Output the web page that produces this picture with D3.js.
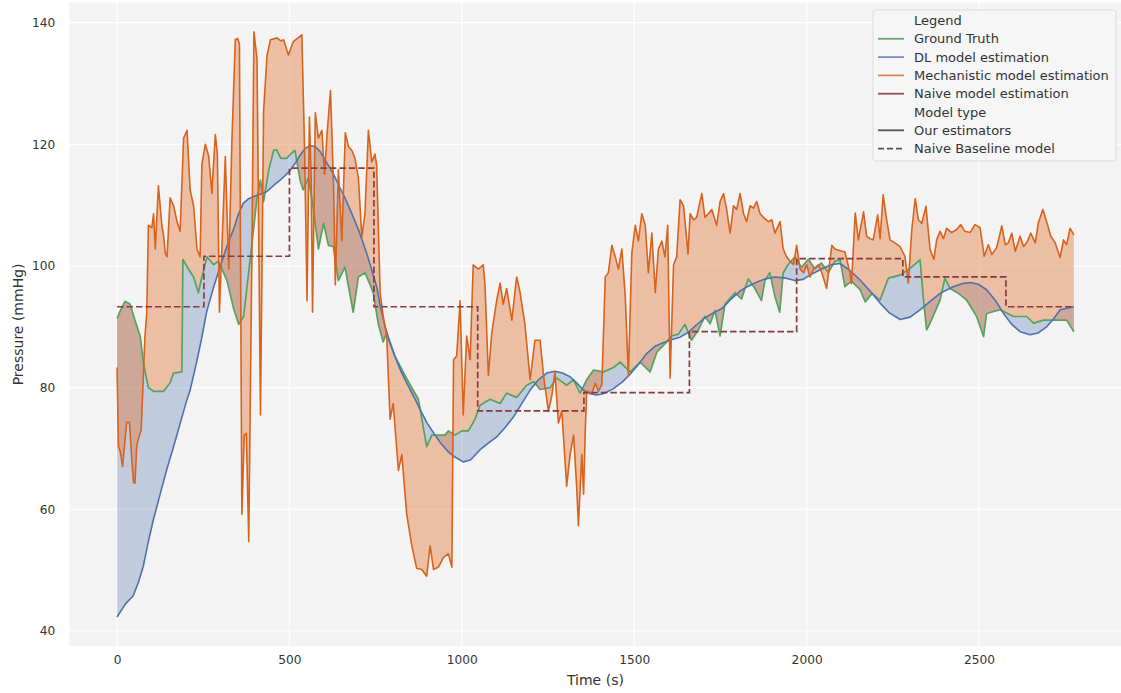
<!DOCTYPE html>
<html><head><meta charset="utf-8">
<script src="https://cdn.jsdelivr.net/npm/d3@7"></script>
<style>body{margin:0;background:#fff}svg{display:block}text{font-family:"DejaVu Sans",sans-serif}</style>
</head><body>
<script>
// ---------- data (time in s, pressure in mmHg) ----------
const groundTruth = [[0,91.4],[10,92.7],[23,94.2],[38,93.7],[52,91.1],[67,88.5],[77,83.9],[91,80.0],[106,79.4],[135,79.4],[154,80.8],[164,82.4],[188,82.6],[191,101.1],[207,99.5],[222,98.2],[236,95.6],[246,98.2],[261,101.5],[280,100.2],[294,100.8],[319,97.6],[338,93.0],[353,90.4],[367,91.7],[387,101.5],[406,111.2],[416,114.1],[425,110.6],[440,115.8],[454,119.0],[463,119.1],[475,117.7],[492,117.7],[505,118.5],[516,119.0],[531,114.1],[540,112.5],[555,114.5],[569,109.7],[584,102.8],[599,107.0],[613,103.4],[627,103.2],[642,97.6],[661,99.8],[685,92.4],[700,98.2],[719,98.9],[734,96.9],[743,95.6],[758,90.4],[772,87.5],[782,89.1],[806,85.2],[835,82.0],[874,78.1],[898,70.3],[913,72.2],[951,72.2],[961,72.9],[980,72.2],[1000,72.9],[1019,72.9],[1038,74.8],[1053,77.1],[1082,78.1],[1111,77.4],[1130,79.1],[1159,78.4],[1188,80.4],[1208,81.0],[1227,79.7],[1256,80.0],[1275,81.6],[1304,80.4],[1324,81.3],[1343,79.1],[1362,81.3],[1382,82.9],[1411,82.6],[1440,83.3],[1459,84.2],[1488,82.6],[1517,84.2],[1546,82.6],[1566,85.9],[1589,87.2],[1608,88.5],[1628,88.8],[1647,90.4],[1666,87.8],[1686,89.5],[1705,91.7],[1720,90.5],[1734,92.7],[1749,88.5],[1763,93.7],[1792,95.6],[1811,94.6],[1831,97.9],[1850,96.3],[1869,94.3],[1879,97.6],[1893,98.9],[1908,95.0],[1922,92.4],[1932,98.9],[1946,100.2],[1966,101.5],[1985,99.8],[2005,101.1],[2024,99.5],[2043,100.5],[2063,98.9],[2082,100.8],[2097,101.0],[2111,96.6],[2130,97.5],[2155,96.1],[2170,94.1],[2190,95.5],[2213,94.4],[2237,98.0],[2271,98.5],[2300,99.6],[2329,101.0],[2339,94.4],[2348,89.5],[2358,90.6],[2387,94.4],[2401,98.0],[2416,96.3],[2440,95.5],[2464,94.4],[2493,91.7],[2513,88.4],[2522,92.2],[2561,92.8],[2600,91.7],[2638,91.7],[2658,90.6],[2687,91.1],[2716,91.1],[2754,91.1],[2775,89.2]];

const dlEstimate = [[0,42.3],[25,44.5],[47,45.8],[62,48],[76,50.6],[90,54.5],[105,58.2],[125,62.5],[144,66.5],[165,70.5],[183,74.1],[200,77.5],[212,79.6],[230,84],[245,88],[260,92.5],[280,96.5],[299,99.9],[320,103.5],[337,105.9],[352,108.5],[366,110.3],[380,111],[395,111.4],[415,111.8],[434,112.2],[455,113.3],[473,114.1],[490,115],[502,115.7],[518,117],[531,118.2],[545,119.3],[560,119.8],[575,119.6],[589,118.8],[608,117],[627,115.2],[645,113],[660,111.3],[681,108.6],[700,106],[724,102.1],[739,99.3],[753,96.6],[765,93.0],[777,90.2],[790,87.5],[805,85.3],[821,83.0],[840,80.8],[859,78.7],[880,76.3],[898,74.3],[920,72.4],[937,71.0],[960,69.5],[980,68.6],[1004,67.8],[1025,68.1],[1053,69.8],[1075,70.8],[1101,71.9],[1125,73.4],[1150,75.2],[1175,77.5],[1198,79.6],[1222,81.3],[1246,82.4],[1270,82.7],[1292,82.4],[1314,81.8],[1333,80.8],[1352,79.6],[1372,79.0],[1391,78.8],[1410,79.0],[1439,79.8],[1465,80.9],[1488,82.2],[1512,83.8],[1536,85.6],[1560,86.8],[1584,87.4],[1610,87.9],[1633,88.3],[1657,89.1],[1680,90.3],[1705,91.5],[1730,92.3],[1754,93.0],[1780,94.5],[1805,95.8],[1828,96.6],[1850,97.2],[1875,97.8],[1908,98.2],[1940,98.0],[1966,97.6],[1990,97.8],[2015,98.7],[2044,99.5],[2070,100.2],[2097,100.4],[2125,99.3],[2155,97.7],[2185,95.8],[2213,93.9],[2240,92.3],[2271,91.2],[2300,91.6],[2329,92.8],[2358,94.2],[2387,95.5],[2425,96.6],[2450,97.1],[2474,97.3],[2498,97.0],[2522,96.1],[2548,94.3],[2571,92.2],[2595,90.4],[2619,89.2],[2648,88.7],[2672,89.0],[2696,90.0],[2716,91.3],[2735,92.8],[2775,93.3]];

const mechEstimate = [[0,83.3],[4,70.3],[9,69.6],[16,67.0],[28,74.3],[36,74.3],[43,68],[48,64.4],[52,64.3],[57,70.3],[62,71.6],[70,73.0],[75,80],[81,88.5],[86,92],[91,106.7],[101,106.3],[106,108.6],[111,102.8],[120,113.2],[130,106.7],[135,105.0],[140,102.1],[145,101.5],[154,111.2],[164,109.9],[174,107.3],[183,105.7],[193,121.0],[203,122.3],[212,112.5],[222,109.9],[232,102.8],[241,101.5],[246,116.7],[256,120.0],[266,118.0],[275,111.9],[285,121.6],[291,118.4],[297,92.4],[314,118.0],[324,99.5],[333,120.3],[343,137.2],[350,137.4],[355,136.5],[362,59.2],[369,72.2],[375,72.5],[382,54.7],[391,101.5],[397,138.5],[406,134.0],[416,75.5],[425,125.5],[435,134.6],[445,137.2],[464,137.5],[475,137],[483,137.2],[497,134.7],[511,136.9],[525,137.5],[536,138.0],[544,119.0],[551,94.3],[558,124.5],[563,114.5],[567,92.4],[575,125.2],[584,121.0],[594,122.3],[602,115.1],[609,121.6],[619,128.8],[628,113.2],[633,96.9],[642,115.8],[652,104.1],[662,121.9],[671,119.7],[681,119.0],[690,117.7],[700,114.5],[710,104.7],[719,108.6],[729,122.3],[739,117.1],[748,118.4],[753,116.5],[763,95.6],[772,91.7],[782,88.5],[792,74.8],[801,77.4],[816,66.4],[826,69.0],[840,59.2],[855,54.0],[869,50.3],[884,50.1],[898,49.0],[908,54.0],[918,50.1],[932,50.5],[947,52.1],[961,52.7],[971,50.5],[976,84.6],[985,85.2],[995,94.3],[1004,75.5],[1014,88.5],[1024,84.6],[1033,100.2],[1048,99.5],[1062,100.2],[1067,97],[1077,82.0],[1087,89.1],[1101,94.3],[1111,97.2],[1120,93.7],[1130,96.3],[1145,91.1],[1159,98.2],[1169,95.6],[1183,90.4],[1198,81.3],[1212,87.8],[1227,87.8],[1237,82.0],[1251,76.1],[1261,78.7],[1270,82.6],[1280,74.2],[1290,76.1],[1304,63.8],[1314,69.0],[1324,72.2],[1333,63.8],[1338,57.3],[1348,69.0],[1353,62.5],[1358,72.9],[1362,79.4],[1377,79.1],[1387,80.7],[1396,79.4],[1406,80.5],[1416,98.2],[1425,98.9],[1435,103.4],[1445,101.5],[1454,99.5],[1464,102.8],[1474,95.0],[1483,82.0],[1493,102.1],[1503,106.7],[1512,104.1],[1522,108.6],[1532,106.7],[1541,98.9],[1551,105.4],[1561,95.6],[1570,102.8],[1580,104.1],[1589,101.5],[1597,106.7],[1604,81.6],[1614,100.2],[1623,101.5],[1633,110.9],[1643,109.9],[1656,102.0],[1662,108.6],[1672,107.6],[1681,108],[1696,111.9],[1705,108.0],[1715,108.6],[1725,109.3],[1739,106.7],[1749,110.6],[1759,111.9],[1768,109.3],[1778,105.4],[1788,109.9],[1797,109.3],[1807,111.9],[1817,108.6],[1826,107.3],[1836,109.9],[1846,109.5],[1855,110.6],[1865,108.6],[1875,108.0],[1889,107.3],[1899,107.6],[1908,105.4],[1923,107.3],[1932,102.8],[1942,101.5],[1952,100.8],[1962,100.2],[1971,103.4],[1981,99.5],[1991,98.9],[2000,100.2],[2010,98.2],[2020,99.5],[2034,100.2],[2044,98.9],[2058,96.3],[2073,103.4],[2082,102.8],[2097,102.5],[2111,102.3],[2126,98.8],[2130,97.1],[2141,108.7],[2150,104.3],[2165,108.9],[2174,104.9],[2184,104.5],[2193,104.3],[2206,108.4],[2213,104.5],[2222,111.7],[2232,107.6],[2242,104.3],[2256,103.8],[2271,103.2],[2285,101.6],[2295,97.2],[2305,106.0],[2315,111.1],[2324,107.6],[2334,107.0],[2346,109.8],[2358,102.7],[2369,101.1],[2377,104.3],[2387,105.7],[2397,104.5],[2406,106.2],[2421,105.5],[2435,106.0],[2447,106.8],[2459,105.7],[2474,105.5],[2488,106.8],[2503,106.3],[2515,101.6],[2527,103.5],[2537,101.9],[2551,103.0],[2566,106.6],[2576,103.5],[2585,103.8],[2595,105.4],[2605,102.4],[2619,104.9],[2629,103.2],[2640,104],[2650,105.4],[2663,103.8],[2672,107.1],[2685,109.3],[2696,107.3],[2708,104.9],[2721,103.8],[2735,101.4],[2745,104.3],[2754,103.5],[2764,106.2],[2775,105.1]];

const naiveEstimate = [[0,93.3],[252,101.6],[500,116.1],[745,93.3],[1046,76.2],[1354,79.2],[1660,89.2],[1971,101.2],[2279,98.2],[2578,93.3],[2775,93.3]];

const xTicks = [0,500,1000,1500,2000,2500];
const yTicks = [40,60,80,100,120,140];
const legendLabels = ["Legend","Ground Truth","DL model estimation","Mechanistic model estimation","Naive model estimation","Model type","Our estimators","Naive Baseline model"];
const legendKinds = ["title","gt","dl","mech","naive","title","solid","dashed"];

// ---------- layout ----------
const W = 1121, H = 693;
const plot = {left:69.2, right:1121.7, top:2.6, bottom:646.2};
const C = {gt:"#55a35f", dl:"#4c72b0", mech:"#d9621c", naive:"#8b3a3e",
           dlFill:"rgba(76,114,176,0.30)", mechFill:"rgba(224,112,48,0.40)", bg:"#f3f3f3", txt:"#333"};

const x = d3.scaleLinear().domain([-138.75, 2913.75]).range([plot.left, plot.right]);
const y = d3.scaleLinear().domain([37.5, 143.3]).range([plot.bottom, plot.top]);

const svg = d3.select("body").append("svg").attr("width",W).attr("height",H);
svg.append("defs").append("clipPath").attr("id","clip").append("rect")
  .attr("x",plot.left).attr("y",plot.top).attr("width",plot.right-plot.left).attr("height",plot.bottom-plot.top);

svg.append("rect").attr("x",plot.left).attr("y",plot.top)
  .attr("width",plot.right-plot.left).attr("height",plot.bottom-plot.top).attr("fill",C.bg);

// grid
const grid = svg.append("g");
grid.selectAll(".gx").data(xTicks).join("line")
  .attr("x1",d=>x(d)).attr("x2",d=>x(d)).attr("y1",plot.top).attr("y2",plot.bottom)
  .attr("stroke","#fff").attr("stroke-width",1.1);
grid.selectAll(".gy").data(yTicks).join("line")
  .attr("y1",d=>y(d)).attr("y2",d=>y(d)).attr("x1",plot.left).attr("x2",plot.right)
  .attr("stroke","#fff").attr("stroke-width",1.1);

// axes
const ax = svg.append("g").attr("transform",`translate(0,${plot.bottom})`)
  .call(d3.axisBottom(x).tickValues(xTicks).tickFormat(d3.format("d")).tickSize(0).tickPadding(9));
const ay = svg.append("g").attr("transform",`translate(${plot.left},0)`)
  .call(d3.axisLeft(y).tickValues(yTicks).tickFormat(d3.format("d")).tickSize(0).tickPadding(14));
[ax,ay].forEach(g=>{g.select(".domain").remove();
  g.selectAll("text").attr("font-size","12.2px").attr("fill",C.txt).attr("font-family","DejaVu Sans");});

svg.append("text").attr("x",(plot.left+plot.right)/2).attr("y",685).attr("text-anchor","middle")
  .attr("font-size","14px").attr("fill",C.txt).text("Time (s)");
svg.append("text").attr("transform",`translate(23,${(plot.top+plot.bottom)/2}) rotate(-90)`)
  .attr("text-anchor","middle").attr("font-size","14px").attr("fill",C.txt).text("Pressure (mmHg)");

// fills + lines
const g = svg.append("g").attr("clip-path","url(#clip)");
const line = d3.line().x(d=>x(d[0])).y(d=>y(d[1]));
function band(a,b){ return line(a.concat(b.slice().reverse())) + "Z"; }

g.append("path").attr("d",band(groundTruth,dlEstimate)).attr("fill",C.dlFill).attr("stroke","none");
g.append("path").attr("d",band(groundTruth,mechEstimate)).attr("fill",C.mechFill).attr("stroke","none");

g.append("path").attr("d",line(groundTruth)).attr("fill","none").attr("stroke",C.gt).attr("stroke-width",1.7).attr("stroke-linejoin","round");
g.append("path").attr("d",line(dlEstimate)).attr("fill","none").attr("stroke",C.dl).attr("stroke-width",1.6).attr("stroke-linejoin","round");
g.append("path").attr("d",line(mechEstimate)).attr("fill","none").attr("stroke",C.mech).attr("stroke-width",1.6).attr("stroke-linejoin","round");
g.append("path").attr("d",d3.line().x(d=>x(d[0])).y(d=>y(d[1])).curve(d3.curveStepAfter)(naiveEstimate))
  .attr("fill","none").attr("stroke",C.naive).attr("stroke-width",1.7).attr("stroke-dasharray","6.5,3");

// legend
const lg = svg.append("g");
lg.append("rect").attr("x",873).attr("y",10).attr("width",243).attr("height",151).attr("rx",3)
  .attr("fill","#f6f6f6").attr("stroke","#dcdcdc").attr("stroke-width",1);
const rowY = i => 20.5 + i*18.3;
const handle = {gt:["#6aaa78",null],dl:["#7291c2",null],mech:["#e0874f",null],naive:["#9c4a55",null],solid:["#555",null],dashed:["#555","6,3"]};
legendLabels.forEach((lab,i)=>{
  const k = legendKinds[i];
  if(k!=="title"){
    lg.append("line").attr("x1",878).attr("x2",904).attr("y1",rowY(i)).attr("y2",rowY(i))
      .attr("stroke",handle[k][0]).attr("stroke-width",1.8).attr("stroke-dasharray",handle[k][1]);
  }
  lg.append("text").attr("x",914).attr("y",rowY(i)).attr("dy","0.35em")
    .attr("font-size","13px").attr("fill",C.txt).text(lab);
});
</script>
</body></html>
